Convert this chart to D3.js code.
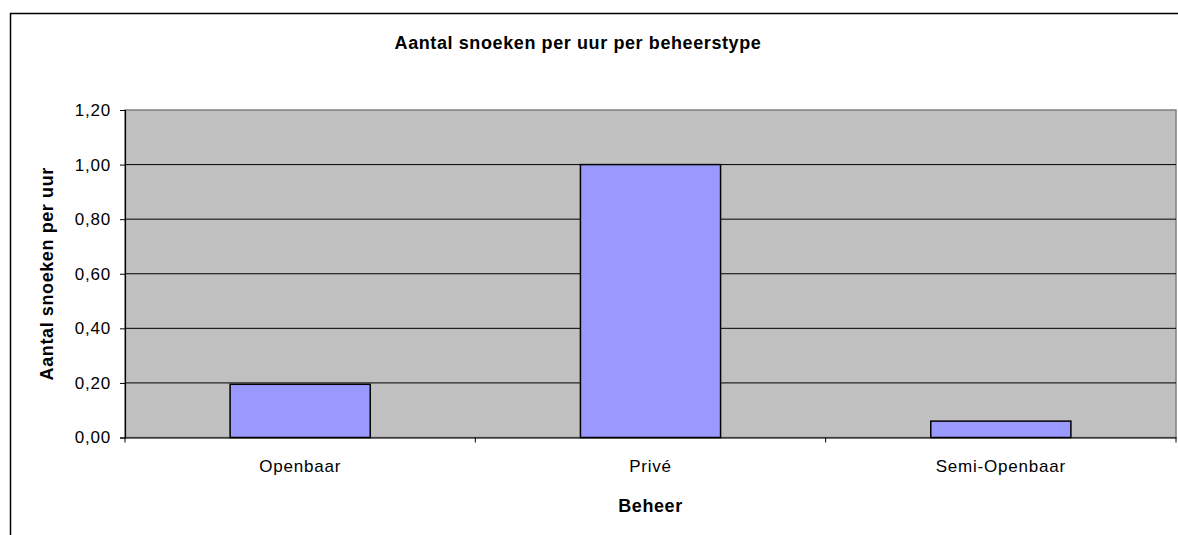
<!DOCTYPE html>
<html>
<head>
<meta charset="utf-8">
<script src="https://cdn.jsdelivr.net/npm/d3@7"></script>
<style>
  body { margin: 0; background: #fff; }
  text { font-family: "Liberation Sans", Arial, sans-serif; }
</style>
</head>
<body>
<div id="chart"></div>
<script>
let categories = ["Openbaar", "Privé", "Semi-Openbaar"]
let values = [0.195, 1.0, 0.06]
let yTicks = [0, 0.2, 0.4, 0.6, 0.8, 1.0, 1.2]

let width = 1178
let height = 535
let plotLeft = 125, plotRight = 1176, plotTop = 110, plotBottom = 437.5
let fontFam = "'Liberation Sans', Arial, sans-serif"

let svg = d3.select("#chart")
            .append("svg")
            .attr("width", width)
            .attr("height", height)

// outer chart border (runs off the picture right and bottom)
svg.append("path")
    .attr("d", "M10.5,545 V13.5 H1190")
    .attr("fill", "none")
    .attr("stroke", "#000")
    .attr("stroke-width", 1.5)

let xScale = d3.scaleBand()
    .domain(categories)
    .range([plotLeft, plotRight])

let yScale = d3.scaleLinear()
    .domain([0, 1.2])
    .range([plotBottom, plotTop])

// plot area
svg.append("rect")
    .attr("x", plotLeft)
    .attr("y", plotTop)
    .attr("width", plotRight - plotLeft)
    .attr("height", plotBottom - plotTop)
    .attr("fill", "#c0c0c0")
    .attr("stroke", "#808080")
    .attr("stroke-width", 1.5)

// gridlines
svg.append("g")
    .selectAll("line")
    .data(yTicks.slice(1, -1))
    .enter()
    .append("line")
    .attr("x1", plotLeft)
    .attr("x2", plotRight)
    .attr("y1", d => yScale(d))
    .attr("y2", d => yScale(d))
    .attr("stroke", "#000")
    .attr("stroke-width", 1)

// bars
let bw = xScale.bandwidth() * 0.4
svg.append("g")
    .selectAll("rect")
    .data(values)
    .enter()
    .append("rect")
    .attr("x", (d, i) => xScale(categories[i]) + (xScale.bandwidth() - bw) / 2)
    .attr("y", d => yScale(d))
    .attr("width", bw)
    .attr("height", d => plotBottom - yScale(d))
    .attr("fill", "#9999ff")
    .attr("stroke", "#000")
    .attr("stroke-width", 1.5)

let yAxis = d3.axisLeft(yScale)
    .tickValues(yTicks)
    .tickSize(5)
    .tickPadding(9)
    .tickFormat(d => d3.format(".2f")(d).replace(".", ","))

let yg = svg.append("g")
    .attr("transform", "translate(" + plotLeft + ",0)")
    .call(yAxis)
yg.select(".domain").attr("stroke", "#000").attr("stroke-width", 1.2)
yg.selectAll("text").attr("font-size", 17).attr("fill", "#000")
    .style("font-family", fontFam).style("letter-spacing", "0.8px")

let xAxis = d3.axisBottom(xScale)
    .tickSize(0)
    .tickPadding(22)

let xg = svg.append("g")
    .attr("transform", "translate(0," + plotBottom + ")")
    .call(xAxis)
xg.select(".domain").attr("stroke", "#000").attr("stroke-width", 1.2)
xg.selectAll("text").attr("font-size", 17).attr("fill", "#000")
    .style("font-family", fontFam).style("letter-spacing", "0.8px")

// category boundary ticks
xg.selectAll(".sep")
    .data(categories.map(c => xScale(c)).concat([plotRight]))
    .enter()
    .append("line")
    .attr("x1", d => d)
    .attr("x2", d => d)
    .attr("y1", 0)
    .attr("y2", 5)
    .attr("stroke", "#000")

// titles
svg.append("text")
    .attr("x", 578)
    .attr("y", 49)
    .attr("text-anchor", "middle")
    .attr("font-size", 18)
    .attr("font-weight", "bold")
    .style("letter-spacing", "0.6px")
    .text("Aantal snoeken per uur per beheerstype")

svg.append("text")
    .attr("x", (plotLeft + plotRight) / 2)
    .attr("y", 512)
    .attr("text-anchor", "middle")
    .attr("font-size", 18)
    .attr("font-weight", "bold")
    .style("letter-spacing", "0.6px")
    .text("Beheer")

svg.append("text")
    .attr("transform", "translate(53," + (plotTop + plotBottom) / 2 + ") rotate(-90)")
    .attr("text-anchor", "middle")
    .attr("font-size", 18)
    .attr("font-weight", "bold")
    .style("letter-spacing", "0.6px")
    .text("Aantal snoeken per uur")
</script>
</body>
</html>
